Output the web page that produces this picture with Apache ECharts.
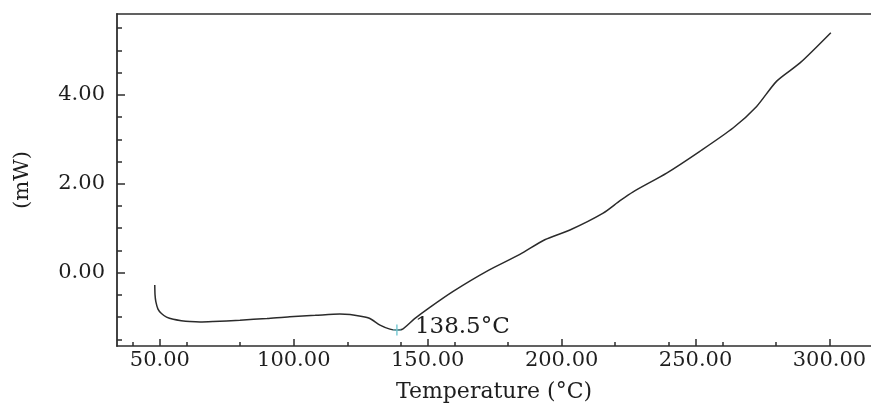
<!DOCTYPE html>
<html><head><meta charset="utf-8">
<script src="https://cdn.jsdelivr.net/npm/echarts@6/dist/echarts.min.js"></script>
<style>html,body{margin:0;padding:0;background:#fff}#c{width:871px;height:403px}</style>
</head><body><div id="c"></div>
<script>
// Temperature (°C)
const temperature = [48.1, 48.2, 48.5, 49.3, 50.6, 52.5, 55.0, 58.0, 61.2, 65.0, 69.9, 79.9, 90.0, 98.5, 108.0, 117.2, 121.0, 125.0, 128.4, 132.2, 135.9, 138.5, 140.3, 145.0, 150.8, 159.5, 172.0, 184.4, 193.7, 203.1, 215.5, 221.8, 226.7, 239.2, 251.6, 264.1, 272.8, 280.3, 289.0, 300.5];
// Heat flow (mW)
const heatFlow = [-0.28, -0.50, -0.65, -0.82, -0.92, -1.00, -1.05, -1.08, -1.10, -1.11, -1.10, -1.07, -1.03, -0.99, -0.96, -0.93, -0.94, -0.98, -1.03, -1.18, -1.27, -1.29, -1.28, -1.04, -0.78, -0.42, 0.03, 0.41, 0.74, 0.96, 1.34, 1.62, 1.82, 2.24, 2.73, 3.26, 3.74, 4.31, 4.72, 5.40];
const xTickLabels = [50, 100, 150, 200, 250, 300];
const xMinorTicks = [40, 60, 80, 100, 120, 140, 160, 180, 200, 220, 240, 260, 280, 300];
const yTickLabels = [0, 2, 4];
const yMinorTicks = [-1.5, -1, -0.5, 0, 0.5, 1, 1.5, 2, 2.5, 3, 3.5, 4, 4.5, 5, 5.5];
const peakTemp = 138.5;
const peakValue = -1.29;

const FONT = 'DejaVu Serif';
const TXT = '#1e1e1e';
const AX = '#2e2e2e';
const X_MIN = 34, X_MAX = 315.5, Y_MIN = -1.65, Y_MAX = 5.82;

const chart = echarts.init(document.getElementById('c'), null, {renderer: 'canvas'});
chart.setOption({
  animation: false,
  backgroundColor: '#fff',
  grid: {left: 117, right: 0, top: 14, bottom: 57, containLabel: false, outerBoundsMode: 'none'},
  xAxis: [
    {
      type: 'value', min: X_MIN, max: X_MAX, position: 'bottom',
      name: 'Temperature (°C)', nameLocation: 'middle', nameGap: 35,
      nameTextStyle: {fontFamily: FONT, fontSize: 22, color: TXT},
      axisLine: {show: true, onZero: false, lineStyle: {color: AX, width: 1.6}},
      axisTick: {show: true, inside: true, length: 7, customValues: xTickLabels, lineStyle: {color: AX, width: 1.5}},
      axisLabel: {show: true, customValues: xTickLabels, margin: 4, fontFamily: FONT, fontSize: 21, color: TXT,
        formatter: v => v.toFixed(2)},
      splitLine: {show: false}
    },
    {
      type: 'value', min: X_MIN, max: X_MAX, position: 'bottom',
      axisLine: {show: false, onZero: false},
      axisTick: {show: true, inside: true, length: 4, customValues: xMinorTicks, lineStyle: {color: AX, width: 1.5}},
      axisLabel: {show: false},
      splitLine: {show: false}
    },
    {
      type: 'value', min: X_MIN, max: X_MAX, position: 'top',
      axisLine: {show: true, onZero: false, lineStyle: {color: AX, width: 1.6}},
      axisTick: {show: false}, axisLabel: {show: false}, splitLine: {show: false}
    }
  ],
  yAxis: [
    {
      type: 'value', min: Y_MIN, max: Y_MAX, position: 'left',
      name: '(mW)', nameLocation: 'middle', nameGap: 84, nameRotate: 90,
      nameTextStyle: {fontFamily: FONT, fontSize: 21, color: TXT},
      axisLine: {show: true, onZero: false, lineStyle: {color: AX, width: 1.8}},
      axisTick: {show: true, inside: true, length: 8, customValues: yTickLabels, lineStyle: {color: AX, width: 1.5}},
      axisLabel: {show: true, customValues: yTickLabels, margin: 12, fontFamily: FONT, fontSize: 21, color: TXT,
        formatter: v => v.toFixed(2)},
      splitLine: {show: false}
    },
    {
      type: 'value', min: Y_MIN, max: Y_MAX, position: 'left',
      axisLine: {show: false, onZero: false},
      axisTick: {show: true, inside: true, length: 5, customValues: yMinorTicks, lineStyle: {color: AX, width: 1.5}},
      axisLabel: {show: false},
      splitLine: {show: false}
    }
  ],
  series: [
    {
      type: 'line', xAxisIndex: 0, yAxisIndex: 0,
      data: temperature.map((t, i) => [t, heatFlow[i]]),
      showSymbol: false, smooth: 0.25,
      lineStyle: {color: '#2b2b2b', width: 1.5},
      silent: true
    },
    {
      type: 'scatter', xAxisIndex: 0, yAxisIndex: 0,
      data: [[peakTemp, peakValue]],
      symbol: 'path://M3.4,0h1.2v11h-1.2z M0.5,5h7v1h-7z',
      symbolSize: [8, 11],
      itemStyle: {color: '#72c8d2', opacity: 1},
      label: {show: true, position: 'right', distance: 14, offset: [0, -3],
        fontFamily: FONT, fontSize: 23, color: TXT, opacity: 1,
        formatter: p => p.value[0].toFixed(1) + '°C'},
      silent: true, z: 5
    }
  ]
});
</script></body></html>
